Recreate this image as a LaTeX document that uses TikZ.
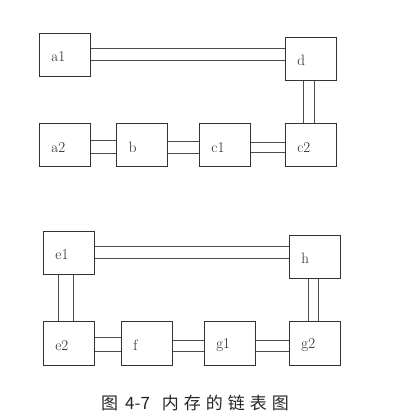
\documentclass[tikz,border=0pt]{standalone}
\usepackage{fontspec}
\newfontfamily\cjk{Noto Sans CJK SC}
\begin{document}
\begin{tikzpicture}[x=1pt,y=-1pt,
  box/.style={draw=black!80,line width=0.9pt,minimum width=51pt,minimum height=43.5pt,inner sep=0pt,fill=white},
  lbl/.style={anchor=west,inner sep=0pt,font=\fontsize{15}{15}\selectfont,text=black!85},
  link/.style={draw=black!70,line width=0.9pt}]
\useasboundingbox[fill=white] (0,0) rectangle (402,419);
% top group
\node[box] (a1) at (64.8,55) {};
\node[box] (d) at (310.7,58.8) {};
\node[box] (a2) at (64.8,145.2) {};
\node[box] (b) at (142.2,145.2) {};
\node[box] (c1) at (224.8,145.2) {};
\node[box] (c2) at (310.7,145.2) {};
% bottom group
\node[box] (e1) at (68.8,253) {};
\node[box] (h) at (314.8,256.7) {};
\node[box] (e2) at (68.7,343.5) {};
\node[box] (f) at (146.7,343.5) {};
\node[box] (g1) at (229.7,343.5) {};
\node[box] (g2) at (314.8,343.5) {};
% labels
\foreach \n/\t in {a1/a1,d/d,a2/a2,b/b,c1/c1,c2/c2,e1/e1,h/h,e2/e2,f/f,g1/g1,g2/g2}
  \node[lbl] (\n t) at ([xshift=12.4pt,yshift=-2pt]\n.west) {\t};
% connectors
\path[link] (a1.east |- 0,48.7) -- (d.west |- 0,48.7)
            (a1.east |- 0,60.3) -- (d.west |- 0,60.3);
\path[link] (d.south -| 303.3,0) -- (c2.north -| 303.3,0)
            (d.south -| 314,0) -- (c2.north -| 314,0);
\path[link] (a2.east |- 0,140) -- (b.west |- 0,140)
            (a2.east |- 0,153.3) -- (b.west |- 0,153.3);
\path[link] (b.east |- 0,141.7) -- (c1.west |- 0,141.7)
            (b.east |- 0,153.3) -- (c1.west |- 0,153.3);
\path[link] (c1.east |- 0,142.7) -- (c2.west |- 0,142.7)
            (c1.east |- 0,152.3) -- (c2.west |- 0,152.3);
\path[link] (e1.east |- 0,246.7) -- (h.west |- 0,246.7)
            (e1.east |- 0,258) -- (h.west |- 0,258);
\path[link] (e1.south -| 58.7,0) -- (e2.north -| 58.7,0)
            (e1.south -| 73.3,0) -- (e2.north -| 73.3,0);
\path[link] (h.south -| 308,0) -- (g2.north -| 308,0)
            (h.south -| 318,0) -- (g2.north -| 318,0);
\path[link] (e2.east |- 0,337.7) -- (f.west |- 0,337.7)
            (e2.east |- 0,351) -- (f.west |- 0,351);
\path[link] (f.east |- 0,340.7) -- (g1.west |- 0,340.7)
            (f.east |- 0,351) -- (g1.west |- 0,351);
\path[link] (g1.east |- 0,340.7) -- (g2.west |- 0,340.7)
            (g1.east |- 0,351) -- (g2.west |- 0,351);
% caption
\node[anchor=west,inner sep=0pt,text=black!85,font=\cjk\fontsize{17}{17}\selectfont] (cap) at (101,403)
  {图\hspace{7pt}4-7\hspace{12pt}内\hspace{5pt}存\hspace{5pt}的\hspace{5pt}链\hspace{5pt}表\hspace{5pt}图};
\end{tikzpicture}
\end{document}
